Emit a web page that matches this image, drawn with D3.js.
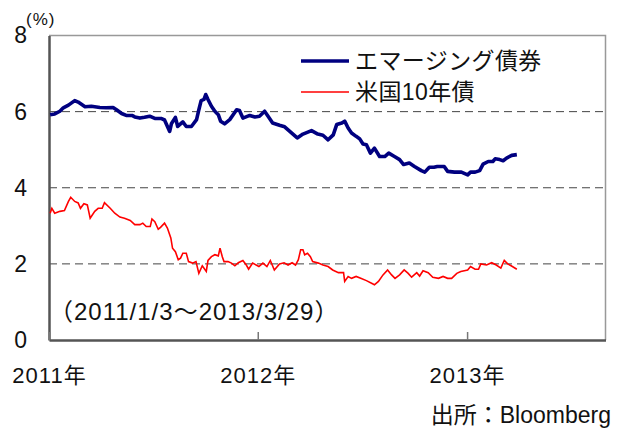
<!DOCTYPE html>
<html>
<head>
<meta charset="utf-8">
<script src="https://cdn.jsdelivr.net/npm/d3@7"></script>
<style>
body { margin:0; background:#fff; }
svg text { font-family:"Liberation Sans","Noto Sans CJK JP",sans-serif; fill:#111; }
</style>
</head>
<body>
<svg id="chart" width="621" height="428"></svg>
<script>

var seriesNames = ['エマージング債券','米国10年債'];
var yTicks = [0,2,4,6,8];
var xTicks = ['2011-01-01','2012-01-01','2013-01-01'];

// エマージング債券
var emDates = ['2011-01-03','2011-01-11','2011-01-20','2011-01-26','2011-02-04','2011-02-15','2011-02-21','2011-03-05','2011-03-16','2011-03-31',
	'2011-04-11','2011-04-23','2011-04-29','2011-05-08','2011-05-16','2011-05-26','2011-05-31','2011-06-09','2011-06-17','2011-06-26',
	'2011-07-05','2011-07-16','2011-07-22','2011-07-31','2011-08-03','2011-08-10','2011-08-14','2011-08-23','2011-08-29','2011-09-07',
	'2011-09-16','2011-09-20','2011-09-24','2011-09-29','2011-10-02','2011-10-06','2011-10-12','2011-10-18','2011-10-24','2011-10-28',
	'2011-11-04','2011-11-13','2011-11-19','2011-11-25','2011-11-30','2011-12-06','2011-12-18','2011-12-27','2012-01-04','2012-01-13',
	'2012-01-19','2012-01-27','2012-02-08','2012-02-17','2012-02-29','2012-03-10','2012-03-20','2012-04-04','2012-04-15','2012-04-24',
	'2012-05-03','2012-05-12','2012-05-18','2012-05-27','2012-06-01','2012-06-07','2012-06-13','2012-06-21','2012-06-27','2012-07-03',
	'2012-07-09','2012-07-16','2012-07-23','2012-08-01','2012-08-10','2012-08-17','2012-08-27','2012-09-05','2012-09-12','2012-09-22',
	'2012-10-01','2012-10-13','2012-10-19','2012-10-27','2012-11-04','2012-11-10','2012-11-22','2012-11-28','2012-12-10','2012-12-22',
	'2013-01-02','2013-01-07','2013-01-15','2013-01-23','2013-01-29','2013-02-07','2013-02-15','2013-02-19','2013-02-27','2013-03-05',
	'2013-03-11','2013-03-20','2013-03-29'];
var emYield = [5.92,5.94,6.01,6.10,6.17,6.29,6.25,6.13,6.14,6.11,
	6.10,6.11,6.05,5.95,5.90,5.90,5.86,5.83,5.85,5.88,
	5.82,5.82,5.78,5.48,5.68,5.85,5.61,5.73,5.61,5.61,
	5.79,6.05,6.29,6.32,6.45,6.32,6.14,6.01,5.92,5.75,
	5.68,5.79,5.92,6.05,6.03,5.83,5.90,5.86,5.88,6.01,
	5.88,5.70,5.64,5.60,5.44,5.31,5.41,5.50,5.41,5.38,
	5.26,5.39,5.66,5.70,5.75,5.57,5.44,5.35,5.29,5.15,
	5.13,4.91,5.04,4.82,4.82,4.91,4.82,4.74,4.61,4.65,
	4.56,4.45,4.41,4.54,4.54,4.56,4.56,4.43,4.41,4.41,
	4.34,4.41,4.41,4.45,4.62,4.69,4.69,4.76,4.74,4.71,
	4.78,4.85,4.87];

// 米国10年債
var usDates = ['2011-01-03','2011-01-06','2011-01-11','2011-01-20','2011-01-28','2011-02-04','2011-02-08','2011-02-15','2011-02-21','2011-02-25',
	'2011-03-03','2011-03-09','2011-03-14','2011-03-22','2011-03-28','2011-04-04','2011-04-08','2011-04-18','2011-04-26','2011-05-05',
	'2011-05-13','2011-05-23','2011-05-31','2011-06-09','2011-06-14','2011-06-20','2011-06-27','2011-06-30','2011-07-05','2011-07-11',
	'2011-07-15','2011-07-22','2011-07-27','2011-08-02','2011-08-05','2011-08-10','2011-08-15','2011-08-19','2011-08-23','2011-08-29',
	'2011-09-02','2011-09-09','2011-09-15','2011-09-20','2011-09-26','2011-10-03','2011-10-06','2011-10-12','2011-10-18','2011-10-24',
	'2011-10-27','2011-10-31','2011-11-03','2011-11-10','2011-11-16','2011-11-22','2011-11-28','2011-12-06','2011-12-12','2011-12-16',
	'2011-12-23','2012-01-03','2012-01-10','2012-01-17','2012-01-23','2012-01-30','2012-02-08','2012-02-16','2012-02-23','2012-03-01',
	'2012-03-07','2012-03-12','2012-03-16','2012-03-20','2012-03-23','2012-03-28','2012-04-02','2012-04-06','2012-04-16','2012-04-24',
	'2012-05-03','2012-05-11','2012-05-21','2012-05-30','2012-06-01','2012-06-07','2012-06-13','2012-06-21','2012-06-29','2012-07-09',
	'2012-07-18','2012-07-23','2012-07-30','2012-08-07','2012-08-15','2012-08-22','2012-08-28','2012-09-05','2012-09-13','2012-09-20',
	'2012-09-26','2012-10-05','2012-10-10','2012-10-16','2012-10-25','2012-11-02','2012-11-12','2012-11-20','2012-11-28','2012-12-05',
	'2012-12-14','2012-12-21','2013-01-02','2013-01-07','2013-01-15','2013-01-21','2013-01-25','2013-02-04','2013-02-13','2013-02-21',
	'2013-03-01','2013-03-07','2013-03-13','2013-03-19','2013-03-29'];
var usYield = [3.33,3.46,3.33,3.38,3.40,3.64,3.75,3.64,3.60,3.46,
	3.58,3.55,3.20,3.38,3.46,3.46,3.61,3.46,3.33,3.23,
	3.20,3.14,3.03,3.03,3.07,2.98,2.98,3.18,3.11,2.91,
	2.96,3.07,2.94,2.68,2.41,2.32,2.11,2.15,2.28,2.28,
	2.06,2.02,2.06,1.75,1.95,1.80,2.09,2.19,2.24,2.21,
	2.41,2.19,2.06,2.06,2.02,1.95,2.03,2.09,1.97,1.86,
	2.02,1.93,2.02,1.93,2.09,1.84,2.00,2.03,1.97,2.03,
	1.97,2.11,2.37,2.37,2.24,2.28,2.19,2.06,2.02,1.97,
	1.93,1.84,1.77,1.77,1.54,1.67,1.62,1.67,1.62,1.56,
	1.49,1.45,1.54,1.71,1.84,1.71,1.62,1.71,1.84,1.75,
	1.65,1.77,1.68,1.82,1.77,1.65,1.62,1.67,1.62,1.62,
	1.75,1.80,1.84,1.93,1.86,1.86,2.00,1.97,2.03,1.97,
	1.89,2.09,2.00,1.95,1.86];

//--------------------------------------------------

var marginLeft = 49;
var marginTop = 35.5;
var plotW = 556.5;
var plotH = 304.5;

var parse = d3.timeParse('%Y-%m-%d');
var em = emDates.map(function(d,i){ return {date:parse(d), value:emYield[i]} });
var us = usDates.map(function(d,i){ return {date:parse(d), value:usYield[i]} });

var x = d3.scaleTime()
		.domain([parse('2011-01-01'), parse('2013-08-31')])
		.range([0, plotW]);
var y = d3.scaleLinear()
		.domain([0,8])
		.range([plotH, 0]);

var svg = d3.select('#chart');
var g = svg.append('g')
		.attr('transform','translate('+marginLeft+','+marginTop+')');

// dashed grid
g.selectAll('.grid')
	.data([2,4,6])
	.enter()
	.append('line')
	.attr('x1',0).attr('x2',plotW)
	.attr('y1',function(d){ return y(d) }).attr('y2',function(d){ return y(d) })
	.attr('stroke','#444')
	.attr('stroke-width',1)
	.attr('stroke-dasharray','8,5');

// frame (top / right)
g.append('path')
	.attr('d','M0,0H'+plotW+'V'+plotH)
	.attr('fill','none')
	.attr('stroke','#999')
	.attr('stroke-width',1.5);

// y axis
var yAxis = g.append('g')
	.call(d3.axisLeft(y).tickValues(yTicks).tickSize(0).tickPadding(22));
yAxis.select('.domain').attr('stroke','#555').attr('stroke-width',2.5);
yAxis.selectAll('text')
	.style('font-size','23px')
	.attr('fill','#111');

// x axis
var xAxis = g.append('g')
	.attr('transform','translate(0,'+plotH+')')
	.call(d3.axisBottom(x)
		.tickValues(xTicks.map(parse))
		.tickFormat(d3.timeFormat('%Y年'))
		.tickSizeInner(-8)
		.tickSizeOuter(0)
		.tickPadding(27));
xAxis.select('.domain').attr('stroke','#555').attr('stroke-width',2.5);
xAxis.selectAll('line').attr('stroke','#777').attr('stroke-width',1.5);
xAxis.selectAll('text')
	.style('font-size','22px')
	.style('letter-spacing','1px')
	.attr('fill','#111');

// lines
var lineGen = d3.line()
		.x(function(d){ return x(d.date) })
		.y(function(d){ return y(d.value) });

g.append('path')
	.datum(us)
	.attr('d',lineGen)
	.attr('fill','none')
	.attr('stroke','#ff0000')
	.attr('stroke-width',1.6);

g.append('path')
	.datum(em)
	.attr('d',lineGen)
	.attr('fill','none')
	.attr('stroke','#000080')
	.attr('stroke-width',3.6)
	.attr('stroke-linejoin','round');

// legend
var legendCol = ['#000080','#ff0000'];
var legendW = [3.6,1.6];
var legend = svg.selectAll('.legend')
	.data(seriesNames)
	.enter()
	.append('g')
	.attr('transform',function(d,i){ return 'translate(301,'+(61+i*31)+')' });
legend.append('line')
	.attr('x1',0).attr('x2',48)
	.attr('stroke',function(d,i){ return legendCol[i] })
	.attr('stroke-width',function(d,i){ return legendW[i] });
legend.append('text')
	.attr('x',54)
	.attr('dy','0.36em')
	.style('font-size','23px')
	.style('letter-spacing','0.4px')
	.text(function(d){ return d });

// unit
svg.append('text')
	.attr('x',26).attr('y',25)
	.style('font-size','17px')
	.style('letter-spacing','1px')
	.text('(%)');

// period note
svg.append('text')
	.attr('x',49).attr('y',320)
	.style('font-size','24px')
	.style('letter-spacing','1px')
	.text('（2011/1/3～2013/3/29）');

// source
svg.append('text')
	.attr('x',611).attr('y',423)
	.attr('text-anchor','end')
	.style('font-size','23px')
	.text('出所：Bloomberg');

</script>
</body>
</html>
